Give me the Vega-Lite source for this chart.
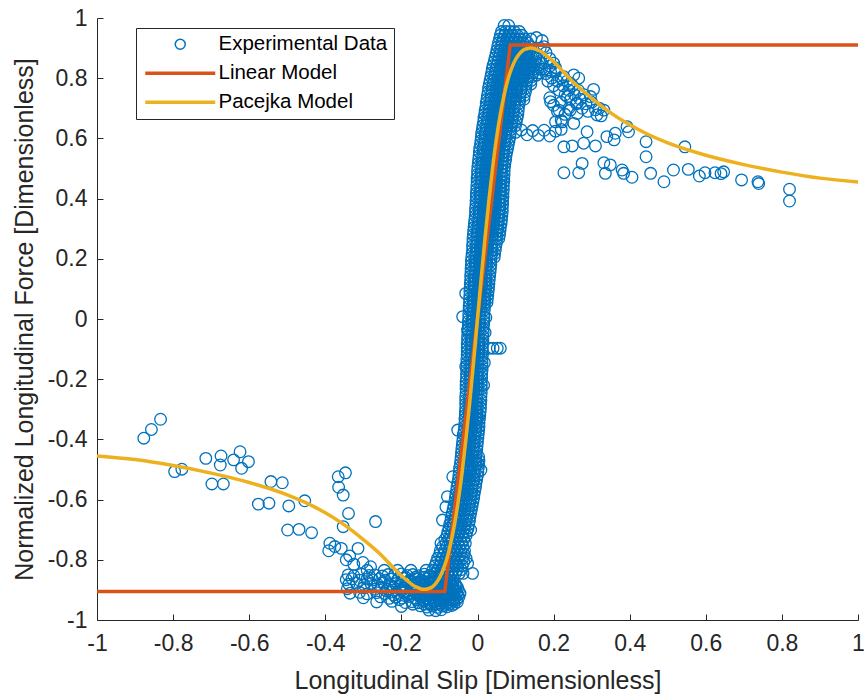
{
  "$schema": "https://vega.github.io/schema/vega-lite/v6.json",
  "width": 761,
  "height": 602,
  "autosize": "none",
  "padding": {"left": 97, "top": 18, "right": 7, "bottom": 76},
  "background": "white",
  "config": {
    "view": {"stroke": null},
    "font": "Liberation Sans",
    "axis": {
      "grid": false,
      "domainColor": "#262626",
      "domainWidth": 1,
      "tickColor": "#262626",
      "tickWidth": 1,
      "tickSize": -6,
      "labelColor": "#262626",
      "labelFont": "Liberation Sans",
      "labelFontSize": 23,
      "labelFlush": false,
      "labelOverlap": false,
      "titleColor": "#262626",
      "titleFont": "Liberation Sans",
      "titleFontSize": 25,
      "titleFontWeight": "normal"
    }
  },
  "datasets": {
    "experimental": [
      {"x":-0.877,"y":-0.396},{"x":-0.857,"y":-0.367},{"x":-0.833,"y":-0.333},{"x":-0.796,"y":-0.507},{"x":-0.777,"y":-0.499},
      {"x":-0.714,"y":-0.463},{"x":-0.674,"y":-0.455},{"x":-0.676,"y":-0.485},{"x":-0.641,"y":-0.468},{"x":-0.624,"y":-0.441},
      {"x":-0.602,"y":-0.474},{"x":-0.620,"y":-0.496},{"x":-0.698,"y":-0.548},{"x":-0.668,"y":-0.548},{"x":-0.543,"y":-0.540},
      {"x":-0.513,"y":-0.544},{"x":-0.576,"y":-0.615},{"x":-0.548,"y":-0.612},{"x":-0.496,"y":-0.621},{"x":-0.454,"y":-0.604},
      {"x":-0.499,"y":-0.701},{"x":-0.469,"y":-0.699},{"x":-0.436,"y":-0.710},{"x":-0.366,"y":-0.524},{"x":-0.347,"y":-0.511},
      {"x":-0.365,"y":-0.559},{"x":-0.353,"y":-0.585},{"x":-0.339,"y":-0.646},{"x":-0.353,"y":-0.690},{"x":-0.268,"y":-0.673},
      {"x":-0.388,"y":-0.745},{"x":-0.391,"y":-0.770},{"x":-0.375,"y":-0.756},{"x":-0.358,"y":-0.762},{"x":-0.336,"y":-0.787},
      {"x":-0.314,"y":-0.762},{"x":-0.301,"y":-0.809},{"x":-0.281,"y":-0.823},{"x":-0.345,"y":-0.8},{"x":-0.325,"y":-0.815},

      {"x":-0.29,"y":-0.835},{"x":-0.245,"y":-0.835},{"x":-0.21,"y":-0.835},{"x":-0.175,"y":-0.835},{"x":-0.135,"y":-0.835},{"x":-0.118,"y":-0.835},{"x":-0.105,"y":-0.835},{"x":-0.095,"y":-0.835},
      {"x":-0.34,"y":-0.85},{"x":-0.325,"y":-0.853},{"x":-0.305,"y":-0.848},{"x":-0.285,"y":-0.852},{"x":-0.27,"y":-0.85},{"x":-0.25,"y":-0.854},{"x":-0.235,"y":-0.849},{"x":-0.218,"y":-0.851},
      {"x":-0.2,"y":-0.847},{"x":-0.185,"y":-0.852},{"x":-0.17,"y":-0.849},{"x":-0.155,"y":-0.853},{"x":-0.14,"y":-0.848},{"x":-0.125,"y":-0.851},{"x":-0.112,"y":-0.846},{"x":-0.1,"y":-0.85},
      {"x":-0.19,"y":-0.8575},{"x":-0.163,"y":-0.8575},{"x":-0.14,"y":-0.8575},{"x":-0.126,"y":-0.8575},{"x":-0.111,"y":-0.8575},{"x":-0.098,"y":-0.8575},{"x":-0.086,"y":-0.8575},{"x":-0.074,"y":-0.8575},
      {"x":-0.345,"y":-0.866},{"x":-0.33,"y":-0.863},{"x":-0.31,"y":-0.868},{"x":-0.29,"y":-0.864},{"x":-0.275,"y":-0.867},{"x":-0.258,"y":-0.863},{"x":-0.242,"y":-0.868},{"x":-0.226,"y":-0.864},
      {"x":-0.21,"y":-0.866},{"x":-0.193,"y":-0.862},{"x":-0.178,"y":-0.867},{"x":-0.162,"y":-0.864},{"x":-0.147,"y":-0.868},{"x":-0.132,"y":-0.863},{"x":-0.118,"y":-0.866},{"x":-0.105,"y":-0.862},{"x":-0.092,"y":-0.867},{"x":-0.08,"y":-0.864},
      {"x":-0.2,"y":-0.8725},{"x":-0.175,"y":-0.8725},{"x":-0.155,"y":-0.8725},{"x":-0.14,"y":-0.8725},{"x":-0.125,"y":-0.8725},{"x":-0.111,"y":-0.8725},{"x":-0.099,"y":-0.8725},{"x":-0.087,"y":-0.8725},{"x":-0.075,"y":-0.8725},{"x":-0.064,"y":-0.8725},
      {"x":-0.338,"y":-0.881},{"x":-0.318,"y":-0.878},{"x":-0.298,"y":-0.883},{"x":-0.28,"y":-0.879},{"x":-0.262,"y":-0.882},{"x":-0.247,"y":-0.877},{"x":-0.231,"y":-0.882},{"x":-0.215,"y":-0.879},
      {"x":-0.199,"y":-0.883},{"x":-0.183,"y":-0.878},{"x":-0.167,"y":-0.881},{"x":-0.152,"y":-0.877},{"x":-0.137,"y":-0.882},{"x":-0.122,"y":-0.879},{"x":-0.108,"y":-0.883},{"x":-0.095,"y":-0.878},{"x":-0.083,"y":-0.881},{"x":-0.07,"y":-0.877},{"x":-0.058,"y":-0.88},
      {"x":-0.23,"y":-0.8875},{"x":-0.19,"y":-0.8875},{"x":-0.165,"y":-0.8875},{"x":-0.145,"y":-0.8875},{"x":-0.13,"y":-0.8875},{"x":-0.116,"y":-0.8875},{"x":-0.102,"y":-0.8875},{"x":-0.089,"y":-0.8875},{"x":-0.077,"y":-0.8875},{"x":-0.066,"y":-0.8875},{"x":-0.056,"y":-0.8875},
      {"x":-0.342,"y":-0.896},{"x":-0.3,"y":-0.893},{"x":-0.27,"y":-0.898},{"x":-0.252,"y":-0.894},{"x":-0.236,"y":-0.897},{"x":-0.22,"y":-0.892},{"x":-0.204,"y":-0.897},{"x":-0.188,"y":-0.893},
      {"x":-0.172,"y":-0.898},{"x":-0.157,"y":-0.894},{"x":-0.142,"y":-0.897},{"x":-0.127,"y":-0.892},{"x":-0.113,"y":-0.896},{"x":-0.1,"y":-0.893},{"x":-0.087,"y":-0.897},{"x":-0.075,"y":-0.894},{"x":-0.063,"y":-0.898},{"x":-0.052,"y":-0.893},
      {"x":-0.24,"y":-0.9025},{"x":-0.2,"y":-0.9025},{"x":-0.17,"y":-0.9025},{"x":-0.15,"y":-0.9025},{"x":-0.135,"y":-0.9025},{"x":-0.12,"y":-0.9025},{"x":-0.107,"y":-0.9025},{"x":-0.094,"y":-0.9025},{"x":-0.082,"y":-0.9025},{"x":-0.07,"y":-0.9025},{"x":-0.06,"y":-0.9025},{"x":-0.05,"y":-0.9025},
      {"x":-0.335,"y":-0.911},{"x":-0.31,"y":-0.908},{"x":-0.29,"y":-0.913},{"x":-0.265,"y":-0.909},{"x":-0.243,"y":-0.912},{"x":-0.226,"y":-0.907},{"x":-0.21,"y":-0.912},{"x":-0.194,"y":-0.908},
      {"x":-0.178,"y":-0.913},{"x":-0.162,"y":-0.909},{"x":-0.147,"y":-0.912},{"x":-0.132,"y":-0.907},{"x":-0.118,"y":-0.911},{"x":-0.104,"y":-0.908},{"x":-0.09,"y":-0.912},{"x":-0.078,"y":-0.909},{"x":-0.066,"y":-0.913},{"x":-0.055,"y":-0.908},{"x":-0.046,"y":-0.911},
      {"x":-0.22,"y":-0.9175},{"x":-0.185,"y":-0.9175},{"x":-0.157,"y":-0.9175},{"x":-0.14,"y":-0.9175},{"x":-0.125,"y":-0.9175},{"x":-0.111,"y":-0.9175},{"x":-0.098,"y":-0.9175},{"x":-0.085,"y":-0.9175},{"x":-0.073,"y":-0.9175},{"x":-0.062,"y":-0.9175},{"x":-0.052,"y":-0.9175},
      {"x":-0.3,"y":-0.926},{"x":-0.255,"y":-0.923},{"x":-0.232,"y":-0.928},{"x":-0.215,"y":-0.924},{"x":-0.198,"y":-0.927},{"x":-0.18,"y":-0.922},{"x":-0.165,"y":-0.927},{"x":-0.15,"y":-0.923},
      {"x":-0.136,"y":-0.928},{"x":-0.122,"y":-0.924},{"x":-0.108,"y":-0.927},{"x":-0.095,"y":-0.922},{"x":-0.082,"y":-0.926},{"x":-0.07,"y":-0.923},{"x":-0.059,"y":-0.927},{"x":-0.049,"y":-0.924},
      {"x":-0.205,"y":-0.9325},{"x":-0.16,"y":-0.9325},{"x":-0.143,"y":-0.9325},{"x":-0.129,"y":-0.9325},{"x":-0.115,"y":-0.9325},{"x":-0.101,"y":-0.9325},{"x":-0.088,"y":-0.9325},{"x":-0.076,"y":-0.9325},{"x":-0.065,"y":-0.9325},{"x":-0.055,"y":-0.9325},
      {"x":-0.265,"y":-0.94},{"x":-0.225,"y":-0.938},{"x":-0.19,"y":-0.942},{"x":-0.172,"y":-0.939},{"x":-0.155,"y":-0.943},{"x":-0.14,"y":-0.938},{"x":-0.126,"y":-0.942},{"x":-0.112,"y":-0.939},
      {"x":-0.099,"y":-0.943},{"x":-0.086,"y":-0.938},{"x":-0.074,"y":-0.941},{"x":-0.063,"y":-0.937},{"x":-0.053,"y":-0.94},
      {"x":-0.17,"y":-0.9475},{"x":-0.14,"y":-0.9475},{"x":-0.124,"y":-0.9475},{"x":-0.11,"y":-0.9475},{"x":-0.097,"y":-0.9475},{"x":-0.085,"y":-0.9475},{"x":-0.073,"y":-0.9475},{"x":-0.062,"y":-0.9475},
      {"x":-0.2,"y":-0.955},{"x":-0.15,"y":-0.953},{"x":-0.133,"y":-0.957},{"x":-0.119,"y":-0.954},{"x":-0.105,"y":-0.958},{"x":-0.092,"y":-0.954},{"x":-0.08,"y":-0.956},{"x":-0.068,"y":-0.952},
      {"x":-0.128,"y":-0.967},{"x":-0.11,"y":-0.969},{"x":-0.095,"y":-0.966},

      {"x":-0.09,"y":-0.845},{"x":-0.079,"y":-0.845},{"x":-0.068,"y":-0.845},{"x":-0.058,"y":-0.845},{"x":-0.048,"y":-0.845},{"x":-0.038,"y":-0.845},{"x":-0.013,"y":-0.845},
      {"x":-0.095,"y":-0.8325},{"x":-0.084,"y":-0.8325},{"x":-0.073,"y":-0.8325},{"x":-0.063,"y":-0.8325},{"x":-0.053,"y":-0.8325},{"x":-0.043,"y":-0.8325},
      {"x":-0.112,"y":-0.82},{"x":-0.1,"y":-0.82},{"x":-0.088,"y":-0.82},{"x":-0.076,"y":-0.82},{"x":-0.064,"y":-0.82},{"x":-0.052,"y":-0.82},{"x":-0.04,"y":-0.82},{"x":-0.026,"y":-0.812},
      {"x":-0.108,"y":-0.8075},{"x":-0.096,"y":-0.8075},{"x":-0.084,"y":-0.8075},{"x":-0.072,"y":-0.8075},{"x":-0.06,"y":-0.8075},{"x":-0.048,"y":-0.8075},{"x":-0.036,"y":-0.8075},
      {"x":-0.105,"y":-0.795},{"x":-0.094,"y":-0.795},{"x":-0.083,"y":-0.795},{"x":-0.072,"y":-0.795},{"x":-0.061,"y":-0.795},{"x":-0.05,"y":-0.795},{"x":-0.039,"y":-0.795},{"x":-0.03,"y":-0.795},
      {"x":-0.1,"y":-0.7825},{"x":-0.089,"y":-0.7825},{"x":-0.078,"y":-0.7825},{"x":-0.067,"y":-0.7825},{"x":-0.056,"y":-0.7825},{"x":-0.045,"y":-0.7825},{"x":-0.035,"y":-0.7825},
      {"x":-0.098,"y":-0.77},{"x":-0.087,"y":-0.77},{"x":-0.076,"y":-0.77},{"x":-0.065,"y":-0.77},{"x":-0.054,"y":-0.77},{"x":-0.044,"y":-0.77},{"x":-0.034,"y":-0.77},
      {"x":-0.092,"y":-0.7575},{"x":-0.081,"y":-0.7575},{"x":-0.07,"y":-0.7575},{"x":-0.059,"y":-0.7575},{"x":-0.048,"y":-0.7575},{"x":-0.038,"y":-0.7575},
      {"x":-0.096,"y":-0.745},{"x":-0.083,"y":-0.745},{"x":-0.072,"y":-0.745},{"x":-0.062,"y":-0.745},{"x":-0.052,"y":-0.745},{"x":-0.042,"y":-0.745},{"x":-0.032,"y":-0.745},
      {"x":-0.086,"y":-0.7325},{"x":-0.076,"y":-0.7325},{"x":-0.066,"y":-0.7325},{"x":-0.056,"y":-0.7325},{"x":-0.046,"y":-0.7325},{"x":-0.036,"y":-0.7325},
      {"x":-0.08,"y":-0.72},{"x":-0.07,"y":-0.72},{"x":-0.06,"y":-0.72},{"x":-0.05,"y":-0.72},{"x":-0.04,"y":-0.72},{"x":-0.03,"y":-0.72},{"x":-0.018,"y":-0.701},
      {"x":-0.078,"y":-0.7075},{"x":-0.068,"y":-0.7075},{"x":-0.058,"y":-0.7075},{"x":-0.048,"y":-0.7075},{"x":-0.038,"y":-0.7075},{"x":-0.028,"y":-0.7075},
      {"x":-0.075,"y":-0.695},{"x":-0.065,"y":-0.695},{"x":-0.055,"y":-0.695},{"x":-0.045,"y":-0.695},{"x":-0.035,"y":-0.695},{"x":-0.025,"y":-0.695},
      {"x":-0.073,"y":-0.6825},{"x":-0.063,"y":-0.6825},{"x":-0.053,"y":-0.6825},{"x":-0.043,"y":-0.6825},{"x":-0.033,"y":-0.6825},{"x":-0.023,"y":-0.6825},
      {"x":-0.092,"y":-0.668},{"x":-0.07,"y":-0.67},{"x":-0.06,"y":-0.67},{"x":-0.05,"y":-0.67},{"x":-0.04,"y":-0.67},{"x":-0.03,"y":-0.67},{"x":-0.021,"y":-0.67},
      {"x":-0.069,"y":-0.6575},{"x":-0.059,"y":-0.6575},{"x":-0.049,"y":-0.6575},{"x":-0.039,"y":-0.6575},{"x":-0.029,"y":-0.6575},{"x":-0.02,"y":-0.6575},
      {"x":-0.066,"y":-0.645},{"x":-0.056,"y":-0.645},{"x":-0.046,"y":-0.645},{"x":-0.036,"y":-0.645},{"x":-0.026,"y":-0.645},{"x":-0.018,"y":-0.645},
      {"x":-0.064,"y":-0.6325},{"x":-0.054,"y":-0.6325},{"x":-0.044,"y":-0.6325},{"x":-0.034,"y":-0.6325},{"x":-0.024,"y":-0.6325},{"x":-0.016,"y":-0.6325},
      {"x":-0.083,"y":-0.624},{"x":-0.062,"y":-0.62},{"x":-0.052,"y":-0.62},{"x":-0.042,"y":-0.62},{"x":-0.032,"y":-0.62},{"x":-0.022,"y":-0.62},{"x":-0.014,"y":-0.62},
      {"x":-0.06,"y":-0.6075},{"x":-0.05,"y":-0.6075},{"x":-0.04,"y":-0.6075},{"x":-0.03,"y":-0.6075},{"x":-0.02,"y":-0.6075},{"x":-0.012,"y":-0.6075},
      {"x":-0.079,"y":-0.59},{"x":-0.058,"y":-0.595},{"x":-0.048,"y":-0.595},{"x":-0.038,"y":-0.595},{"x":-0.028,"y":-0.595},{"x":-0.018,"y":-0.595},{"x":-0.01,"y":-0.595},
      {"x":-0.057,"y":-0.5825},{"x":-0.047,"y":-0.5825},{"x":-0.037,"y":-0.5825},{"x":-0.027,"y":-0.5825},{"x":-0.017,"y":-0.5825},{"x":-0.009,"y":-0.5825},
      {"x":-0.055,"y":-0.57},{"x":-0.045,"y":-0.57},{"x":-0.035,"y":-0.57},{"x":-0.025,"y":-0.57},{"x":-0.015,"y":-0.57},{"x":-0.007,"y":-0.57},
      {"x":-0.054,"y":-0.5575},{"x":-0.044,"y":-0.5575},{"x":-0.034,"y":-0.5575},{"x":-0.024,"y":-0.5575},{"x":-0.014,"y":-0.5575},{"x":-0.005,"y":-0.5575},
      {"x":-0.052,"y":-0.545},{"x":-0.042,"y":-0.545},{"x":-0.032,"y":-0.545},{"x":-0.022,"y":-0.545},{"x":-0.012,"y":-0.545},{"x":-0.004,"y":-0.545},
      {"x":-0.05,"y":-0.5325},{"x":-0.04,"y":-0.5325},{"x":-0.03,"y":-0.5325},{"x":-0.02,"y":-0.5325},{"x":-0.01,"y":-0.5325},{"x":-0.002,"y":-0.5325},
      {"x":-0.065,"y":-0.524},{"x":-0.049,"y":-0.52},{"x":-0.039,"y":-0.52},{"x":-0.029,"y":-0.52},{"x":-0.019,"y":-0.52},{"x":-0.009,"y":-0.52},{"x":0.0,"y":-0.52},{"x":0.009,"y":-0.502},
      {"x":-0.048,"y":-0.5075},{"x":-0.038,"y":-0.5075},{"x":-0.028,"y":-0.5075},{"x":-0.018,"y":-0.5075},{"x":-0.008,"y":-0.5075},{"x":0.001,"y":-0.5075},
      {"x":-0.047,"y":-0.495},{"x":-0.037,"y":-0.495},{"x":-0.027,"y":-0.495},{"x":-0.017,"y":-0.495},{"x":-0.007,"y":-0.495},{"x":0.002,"y":-0.495},{"x":0.0,"y":-0.479},
      {"x":-0.045,"y":-0.4825},{"x":-0.035,"y":-0.4825},{"x":-0.025,"y":-0.4825},{"x":-0.015,"y":-0.4825},{"x":-0.005,"y":-0.4825},{"x":0.003,"y":-0.4825},
      {"x":-0.044,"y":-0.47},{"x":-0.034,"y":-0.47},{"x":-0.024,"y":-0.47},{"x":-0.014,"y":-0.47},{"x":-0.004,"y":-0.47},{"x":0.004,"y":-0.47},
      {"x":-0.043,"y":-0.4575},{"x":-0.033,"y":-0.4575},{"x":-0.023,"y":-0.4575},{"x":-0.013,"y":-0.4575},{"x":-0.004,"y":-0.4575},{"x":0.003,"y":-0.4575},
      {"x":-0.042,"y":-0.445},{"x":-0.032,"y":-0.445},{"x":-0.022,"y":-0.445},{"x":-0.012,"y":-0.445},{"x":-0.003,"y":-0.445},
      {"x":-0.041,"y":-0.4325},{"x":-0.031,"y":-0.4325},{"x":-0.021,"y":-0.4325},{"x":-0.011,"y":-0.4325},{"x":-0.002,"y":-0.4325},
      {"x":-0.04,"y":-0.42},{"x":-0.03,"y":-0.42},{"x":-0.02,"y":-0.42},{"x":-0.01,"y":-0.42},{"x":-0.001,"y":-0.42},
      {"x":-0.039,"y":-0.4075},{"x":-0.029,"y":-0.4075},{"x":-0.019,"y":-0.4075},{"x":-0.009,"y":-0.4075},{"x":0.0,"y":-0.4075},
      {"x":-0.038,"y":-0.395},{"x":-0.028,"y":-0.395},{"x":-0.018,"y":-0.395},{"x":-0.008,"y":-0.395},{"x":0.001,"y":-0.395},
      {"x":-0.037,"y":-0.3825},{"x":-0.027,"y":-0.3825},{"x":-0.017,"y":-0.3825},{"x":-0.007,"y":-0.3825},{"x":0.002,"y":-0.3825},
      {"x":-0.052,"y":-0.369},{"x":-0.035,"y":-0.37},{"x":-0.025,"y":-0.37},{"x":-0.015,"y":-0.37},{"x":-0.005,"y":-0.37},{"x":0.003,"y":-0.37},
      {"x":-0.034,"y":-0.3575},{"x":-0.024,"y":-0.3575},{"x":-0.014,"y":-0.3575},{"x":-0.004,"y":-0.3575},{"x":0.004,"y":-0.3575},
      {"x":-0.033,"y":-0.345},{"x":-0.023,"y":-0.345},{"x":-0.013,"y":-0.345},{"x":-0.003,"y":-0.345},{"x":0.004,"y":-0.345},{"x":0.0,"y":-0.33},
      {"x":-0.033,"y":-0.3325},{"x":-0.023,"y":-0.3325},{"x":-0.013,"y":-0.3325},{"x":-0.003,"y":-0.3325},{"x":0.005,"y":-0.3325},
      {"x":-0.032,"y":-0.32},{"x":-0.022,"y":-0.32},{"x":-0.012,"y":-0.32},{"x":-0.002,"y":-0.32},{"x":0.006,"y":-0.32},
      {"x":-0.032,"y":-0.3075},{"x":-0.022,"y":-0.3075},{"x":-0.012,"y":-0.3075},{"x":-0.002,"y":-0.3075},{"x":0.007,"y":-0.3075},
      {"x":-0.031,"y":-0.295},{"x":-0.021,"y":-0.295},{"x":-0.011,"y":-0.295},{"x":-0.001,"y":-0.295},{"x":0.008,"y":-0.295},
      {"x":-0.031,"y":-0.2825},{"x":-0.021,"y":-0.2825},{"x":-0.011,"y":-0.2825},{"x":-0.001,"y":-0.2825},{"x":0.008,"y":-0.2825},
      {"x":-0.031,"y":-0.27},{"x":-0.021,"y":-0.27},{"x":-0.011,"y":-0.27},{"x":-0.001,"y":-0.27},{"x":0.009,"y":-0.27},
      {"x":-0.031,"y":-0.2575},{"x":-0.021,"y":-0.2575},{"x":-0.011,"y":-0.2575},{"x":-0.001,"y":-0.2575},{"x":0.009,"y":-0.2575},
      {"x":-0.03,"y":-0.245},{"x":-0.02,"y":-0.245},{"x":-0.01,"y":-0.245},{"x":0.0,"y":-0.245},{"x":0.01,"y":-0.245},
      {"x":-0.03,"y":-0.2325},{"x":-0.02,"y":-0.2325},{"x":-0.01,"y":-0.2325},{"x":0.0,"y":-0.2325},{"x":0.01,"y":-0.2325},
      {"x":-0.03,"y":-0.22},{"x":-0.02,"y":-0.22},{"x":-0.01,"y":-0.22},{"x":0.0,"y":-0.22},{"x":0.01,"y":-0.22},{"x":0.016,"y":-0.22},
      {"x":-0.03,"y":-0.2075},{"x":-0.02,"y":-0.2075},{"x":-0.01,"y":-0.2075},{"x":0.0,"y":-0.2075},{"x":0.01,"y":-0.2075},
      {"x":-0.029,"y":-0.195},{"x":-0.019,"y":-0.195},{"x":-0.009,"y":-0.195},{"x":0.001,"y":-0.195},{"x":0.011,"y":-0.195},
      {"x":-0.029,"y":-0.1825},{"x":-0.019,"y":-0.1825},{"x":-0.009,"y":-0.1825},{"x":0.001,"y":-0.1825},{"x":0.011,"y":-0.1825},
      {"x":-0.028,"y":-0.17},{"x":-0.018,"y":-0.17},{"x":-0.008,"y":-0.17},{"x":0.002,"y":-0.17},{"x":0.012,"y":-0.17},{"x":-0.031,"y":-0.158},
      {"x":-0.028,"y":-0.1575},{"x":-0.018,"y":-0.1575},{"x":-0.008,"y":-0.1575},{"x":0.002,"y":-0.1575},{"x":0.012,"y":-0.1575},
      {"x":-0.028,"y":-0.145},{"x":-0.018,"y":-0.145},{"x":-0.008,"y":-0.145},{"x":0.002,"y":-0.145},{"x":0.012,"y":-0.145},{"x":0.018,"y":-0.145},
      {"x":-0.028,"y":-0.1325},{"x":-0.018,"y":-0.1325},{"x":-0.008,"y":-0.1325},{"x":0.002,"y":-0.1325},{"x":0.012,"y":-0.1325},
      {"x":-0.027,"y":-0.12},{"x":-0.017,"y":-0.12},{"x":-0.007,"y":-0.12},{"x":0.003,"y":-0.12},{"x":0.013,"y":-0.12},
      {"x":-0.027,"y":-0.1075},{"x":-0.017,"y":-0.1075},{"x":-0.007,"y":-0.1075},{"x":0.003,"y":-0.1075},{"x":0.013,"y":-0.1075},
      {"x":-0.027,"y":-0.095},{"x":-0.017,"y":-0.095},{"x":-0.007,"y":-0.095},{"x":0.003,"y":-0.095},{"x":0.013,"y":-0.095},{"x":0.031,"y":-0.097},{"x":0.041,"y":-0.097},{"x":0.052,"y":-0.097},{"x":0.06,"y":-0.097},
      {"x":-0.027,"y":-0.0825},{"x":-0.017,"y":-0.0825},{"x":-0.007,"y":-0.0825},{"x":0.003,"y":-0.0825},{"x":0.013,"y":-0.0825},
      {"x":-0.026,"y":-0.07},{"x":-0.016,"y":-0.07},{"x":-0.006,"y":-0.07},{"x":0.004,"y":-0.07},{"x":0.014,"y":-0.07},
      {"x":-0.026,"y":-0.0575},{"x":-0.016,"y":-0.0575},{"x":-0.006,"y":-0.0575},{"x":0.004,"y":-0.0575},{"x":0.014,"y":-0.0575},
      {"x":-0.025,"y":-0.045},{"x":-0.015,"y":-0.045},{"x":-0.005,"y":-0.045},{"x":0.005,"y":-0.045},{"x":0.015,"y":-0.045},{"x":0.02,"y":-0.045},{"x":-0.026,"y":-0.037},
      {"x":-0.025,"y":-0.0325},{"x":-0.015,"y":-0.0325},{"x":-0.005,"y":-0.0325},{"x":0.005,"y":-0.0325},{"x":0.015,"y":-0.0325},
      {"x":-0.024,"y":-0.02},{"x":-0.014,"y":-0.02},{"x":-0.004,"y":-0.02},{"x":0.006,"y":-0.02},{"x":0.016,"y":-0.02},
      {"x":-0.024,"y":-0.0075},{"x":-0.014,"y":-0.0075},{"x":-0.004,"y":-0.0075},{"x":0.006,"y":-0.0075},{"x":0.016,"y":-0.0075},
      {"x":-0.039,"y":0.008},{"x":-0.023,"y":0.005},{"x":-0.013,"y":0.005},{"x":-0.003,"y":0.005},{"x":0.007,"y":0.005},{"x":0.017,"y":0.005},{"x":0.022,"y":0.005},
      {"x":-0.023,"y":0.0175},{"x":-0.013,"y":0.0175},{"x":-0.003,"y":0.0175},{"x":0.007,"y":0.0175},{"x":0.017,"y":0.0175},
      {"x":-0.022,"y":0.03},{"x":-0.012,"y":0.03},{"x":-0.002,"y":0.03},{"x":0.008,"y":0.03},{"x":0.018,"y":0.03},
      {"x":-0.022,"y":0.0425},{"x":-0.012,"y":0.0425},{"x":-0.002,"y":0.0425},{"x":0.008,"y":0.0425},{"x":0.018,"y":0.0425},
      {"x":-0.021,"y":0.055},{"x":-0.011,"y":0.055},{"x":-0.001,"y":0.055},{"x":0.009,"y":0.055},{"x":0.019,"y":0.055},{"x":0.025,"y":0.055},
      {"x":-0.021,"y":0.0675},{"x":-0.011,"y":0.0675},{"x":-0.001,"y":0.0675},{"x":0.009,"y":0.0675},{"x":0.019,"y":0.0675},{"x":0.026,"y":0.0675},
      {"x":-0.031,"y":0.085},{"x":-0.02,"y":0.08},{"x":-0.01,"y":0.08},{"x":0.0,"y":0.08},{"x":0.01,"y":0.08},{"x":0.02,"y":0.08},{"x":0.027,"y":0.08},
      {"x":-0.02,"y":0.0925},{"x":-0.01,"y":0.0925},{"x":0.0,"y":0.0925},{"x":0.01,"y":0.0925},{"x":0.02,"y":0.0925},{"x":0.028,"y":0.0925},
      {"x":-0.019,"y":0.105},{"x":-0.009,"y":0.105},{"x":0.001,"y":0.105},{"x":0.011,"y":0.105},{"x":0.021,"y":0.105},{"x":0.029,"y":0.105},
      {"x":-0.019,"y":0.1175},{"x":-0.009,"y":0.1175},{"x":0.001,"y":0.1175},{"x":0.011,"y":0.1175},{"x":0.021,"y":0.1175},{"x":0.03,"y":0.1175},
      {"x":-0.018,"y":0.13},{"x":-0.008,"y":0.13},{"x":0.002,"y":0.13},{"x":0.012,"y":0.13},{"x":0.022,"y":0.13},{"x":0.031,"y":0.13},
      {"x":-0.018,"y":0.1425},{"x":-0.008,"y":0.1425},{"x":0.002,"y":0.1425},{"x":0.012,"y":0.1425},{"x":0.022,"y":0.1425},{"x":0.032,"y":0.1425},
      {"x":-0.017,"y":0.155},{"x":-0.007,"y":0.155},{"x":0.003,"y":0.155},{"x":0.013,"y":0.155},{"x":0.023,"y":0.155},{"x":0.033,"y":0.155},
      {"x":-0.017,"y":0.1675},{"x":-0.007,"y":0.1675},{"x":0.003,"y":0.1675},{"x":0.013,"y":0.1675},{"x":0.023,"y":0.1675},{"x":0.034,"y":0.1675},
      {"x":-0.016,"y":0.18},{"x":-0.006,"y":0.18},{"x":0.004,"y":0.18},{"x":0.014,"y":0.18},{"x":0.024,"y":0.18},{"x":0.035,"y":0.18},
      {"x":-0.016,"y":0.1925},{"x":-0.006,"y":0.1925},{"x":0.004,"y":0.1925},{"x":0.014,"y":0.1925},{"x":0.024,"y":0.1925},{"x":0.035,"y":0.1925},
      {"x":-0.015,"y":0.205},{"x":-0.005,"y":0.205},{"x":0.005,"y":0.205},{"x":0.015,"y":0.205},{"x":0.025,"y":0.205},{"x":0.036,"y":0.205},{"x":0.044,"y":0.205},
      {"x":-0.014,"y":0.2175},{"x":-0.004,"y":0.2175},{"x":0.006,"y":0.2175},{"x":0.016,"y":0.2175},{"x":0.026,"y":0.2175},{"x":0.037,"y":0.2175},{"x":0.045,"y":0.2175},
      {"x":-0.013,"y":0.23},{"x":-0.003,"y":0.23},{"x":0.007,"y":0.23},{"x":0.017,"y":0.23},{"x":0.027,"y":0.23},{"x":0.038,"y":0.23},{"x":0.047,"y":0.23},
      {"x":-0.013,"y":0.2425},{"x":-0.003,"y":0.2425},{"x":0.007,"y":0.2425},{"x":0.017,"y":0.2425},{"x":0.027,"y":0.2425},{"x":0.038,"y":0.2425},{"x":0.048,"y":0.2425},
      {"x":-0.012,"y":0.255},{"x":-0.002,"y":0.255},{"x":0.008,"y":0.255},{"x":0.018,"y":0.255},{"x":0.028,"y":0.255},{"x":0.039,"y":0.255},{"x":0.05,"y":0.255},
      {"x":-0.012,"y":0.2675},{"x":-0.002,"y":0.2675},{"x":0.008,"y":0.2675},{"x":0.018,"y":0.2675},{"x":0.028,"y":0.2675},{"x":0.039,"y":0.2675},{"x":0.05,"y":0.2675},{"x":0.056,"y":0.2675},
      {"x":-0.011,"y":0.28},{"x":-0.001,"y":0.28},{"x":0.009,"y":0.28},{"x":0.019,"y":0.28},{"x":0.029,"y":0.28},{"x":0.04,"y":0.28},{"x":0.051,"y":0.28},{"x":0.058,"y":0.28},
      {"x":-0.01,"y":0.2925},{"x":0.0,"y":0.2925},{"x":0.01,"y":0.2925},{"x":0.02,"y":0.2925},{"x":0.03,"y":0.2925},{"x":0.041,"y":0.2925},{"x":0.052,"y":0.2925},{"x":0.059,"y":0.2925},
      {"x":-0.009,"y":0.305},{"x":0.001,"y":0.305},{"x":0.011,"y":0.305},{"x":0.021,"y":0.305},{"x":0.031,"y":0.305},{"x":0.042,"y":0.305},{"x":0.053,"y":0.305},{"x":0.06,"y":0.305},
      {"x":-0.008,"y":0.3175},{"x":0.002,"y":0.3175},{"x":0.012,"y":0.3175},{"x":0.022,"y":0.3175},{"x":0.032,"y":0.3175},{"x":0.043,"y":0.3175},{"x":0.054,"y":0.3175},{"x":0.062,"y":0.3175},
      {"x":-0.007,"y":0.33},{"x":0.003,"y":0.33},{"x":0.013,"y":0.33},{"x":0.023,"y":0.33},{"x":0.033,"y":0.33},{"x":0.044,"y":0.33},{"x":0.055,"y":0.33},{"x":0.063,"y":0.33},
      {"x":-0.006,"y":0.3425},{"x":0.004,"y":0.3425},{"x":0.014,"y":0.3425},{"x":0.024,"y":0.3425},{"x":0.034,"y":0.3425},{"x":0.045,"y":0.3425},{"x":0.056,"y":0.3425},{"x":0.064,"y":0.3425},
      {"x":-0.005,"y":0.355},{"x":0.005,"y":0.355},{"x":0.015,"y":0.355},{"x":0.025,"y":0.355},{"x":0.035,"y":0.355},{"x":0.046,"y":0.355},{"x":0.057,"y":0.355},{"x":0.065,"y":0.355},
      {"x":-0.005,"y":0.3675},{"x":0.005,"y":0.3675},{"x":0.015,"y":0.3675},{"x":0.025,"y":0.3675},{"x":0.036,"y":0.3675},{"x":0.047,"y":0.3675},{"x":0.058,"y":0.3675},{"x":0.065,"y":0.3675},
      {"x":-0.004,"y":0.38},{"x":0.006,"y":0.38},{"x":0.016,"y":0.38},{"x":0.026,"y":0.38},{"x":0.037,"y":0.38},{"x":0.048,"y":0.38},{"x":0.059,"y":0.38},{"x":0.066,"y":0.38},
      {"x":-0.004,"y":0.3925},{"x":0.006,"y":0.3925},{"x":0.016,"y":0.3925},{"x":0.026,"y":0.3925},{"x":0.037,"y":0.3925},{"x":0.048,"y":0.3925},{"x":0.059,"y":0.3925},{"x":0.066,"y":0.3925},
      {"x":-0.003,"y":0.405},{"x":0.007,"y":0.405},{"x":0.017,"y":0.405},{"x":0.027,"y":0.405},{"x":0.038,"y":0.405},{"x":0.049,"y":0.405},{"x":0.06,"y":0.405},{"x":0.067,"y":0.405},
      {"x":-0.003,"y":0.4175},{"x":0.007,"y":0.4175},{"x":0.017,"y":0.4175},{"x":0.027,"y":0.4175},{"x":0.038,"y":0.4175},{"x":0.049,"y":0.4175},{"x":0.06,"y":0.4175},{"x":0.067,"y":0.4175},
      {"x":-0.002,"y":0.43},{"x":0.008,"y":0.43},{"x":0.018,"y":0.43},{"x":0.028,"y":0.43},{"x":0.039,"y":0.43},{"x":0.05,"y":0.43},{"x":0.061,"y":0.43},{"x":0.068,"y":0.43},
      {"x":-0.002,"y":0.4425},{"x":0.008,"y":0.4425},{"x":0.018,"y":0.4425},{"x":0.028,"y":0.4425},{"x":0.039,"y":0.4425},{"x":0.05,"y":0.4425},{"x":0.061,"y":0.4425},{"x":0.068,"y":0.4425},
      {"x":-0.001,"y":0.455},{"x":0.009,"y":0.455},{"x":0.019,"y":0.455},{"x":0.029,"y":0.455},{"x":0.04,"y":0.455},{"x":0.051,"y":0.455},{"x":0.062,"y":0.455},{"x":0.069,"y":0.455},
      {"x":-0.001,"y":0.4675},{"x":0.009,"y":0.4675},{"x":0.019,"y":0.4675},{"x":0.029,"y":0.4675},{"x":0.04,"y":0.4675},{"x":0.051,"y":0.4675},{"x":0.062,"y":0.4675},{"x":0.069,"y":0.4675},
      {"x":0.0,"y":0.48},{"x":0.01,"y":0.48},{"x":0.02,"y":0.48},{"x":0.03,"y":0.48},{"x":0.041,"y":0.48},{"x":0.052,"y":0.48},{"x":0.063,"y":0.48},{"x":0.07,"y":0.48},
      {"x":0.0,"y":0.4925},{"x":0.01,"y":0.4925},{"x":0.02,"y":0.4925},{"x":0.03,"y":0.4925},{"x":0.041,"y":0.4925},{"x":0.052,"y":0.4925},{"x":0.063,"y":0.4925},{"x":0.07,"y":0.4925},
      {"x":0.001,"y":0.505},{"x":0.011,"y":0.505},{"x":0.021,"y":0.505},{"x":0.031,"y":0.505},{"x":0.042,"y":0.505},{"x":0.053,"y":0.505},{"x":0.064,"y":0.505},{"x":0.071,"y":0.505},
      {"x":0.002,"y":0.5175},{"x":0.012,"y":0.5175},{"x":0.022,"y":0.5175},{"x":0.032,"y":0.5175},{"x":0.043,"y":0.5175},{"x":0.054,"y":0.5175},{"x":0.065,"y":0.5175},{"x":0.072,"y":0.5175},
      {"x":0.003,"y":0.53},{"x":0.013,"y":0.53},{"x":0.023,"y":0.53},{"x":0.033,"y":0.53},{"x":0.044,"y":0.53},{"x":0.055,"y":0.53},{"x":0.066,"y":0.53},{"x":0.074,"y":0.53},
      {"x":0.004,"y":0.5425},{"x":0.014,"y":0.5425},{"x":0.024,"y":0.5425},{"x":0.034,"y":0.5425},{"x":0.045,"y":0.5425},{"x":0.056,"y":0.5425},{"x":0.067,"y":0.5425},{"x":0.075,"y":0.5425},
      {"x":0.005,"y":0.555},{"x":0.015,"y":0.555},{"x":0.025,"y":0.555},{"x":0.035,"y":0.555},{"x":0.046,"y":0.555},{"x":0.057,"y":0.555},{"x":0.068,"y":0.555},{"x":0.077,"y":0.555},
      {"x":0.006,"y":0.5675},{"x":0.016,"y":0.5675},{"x":0.026,"y":0.5675},{"x":0.036,"y":0.5675},{"x":0.047,"y":0.5675},{"x":0.058,"y":0.5675},{"x":0.069,"y":0.5675},{"x":0.079,"y":0.5675},
      {"x":0.008,"y":0.58},{"x":0.018,"y":0.58},{"x":0.028,"y":0.58},{"x":0.038,"y":0.58},{"x":0.049,"y":0.58},{"x":0.06,"y":0.58},{"x":0.071,"y":0.58},{"x":0.081,"y":0.58},
      {"x":0.009,"y":0.5925},{"x":0.019,"y":0.5925},{"x":0.029,"y":0.5925},{"x":0.039,"y":0.5925},{"x":0.05,"y":0.5925},{"x":0.061,"y":0.5925},{"x":0.072,"y":0.5925},{"x":0.083,"y":0.5925},
      {"x":0.01,"y":0.605},{"x":0.02,"y":0.605},{"x":0.03,"y":0.605},{"x":0.041,"y":0.605},{"x":0.052,"y":0.605},{"x":0.063,"y":0.605},{"x":0.074,"y":0.605},{"x":0.085,"y":0.605},
      {"x":0.011,"y":0.6175},{"x":0.021,"y":0.6175},{"x":0.031,"y":0.6175},{"x":0.042,"y":0.6175},{"x":0.053,"y":0.6175},{"x":0.064,"y":0.6175},{"x":0.075,"y":0.6175},{"x":0.086,"y":0.6175},
      {"x":0.013,"y":0.63},{"x":0.023,"y":0.63},{"x":0.033,"y":0.63},{"x":0.044,"y":0.63},{"x":0.055,"y":0.63},{"x":0.066,"y":0.63},{"x":0.077,"y":0.63},{"x":0.088,"y":0.63},
      {"x":0.1,"y":0.62},{"x":0.115,"y":0.628},{"x":0.13,"y":0.612},{"x":0.145,"y":0.626},{"x":0.16,"y":0.61},{"x":0.175,"y":0.627},{"x":0.19,"y":0.608},{"x":0.205,"y":0.624},{"x":0.22,"y":0.63},
      {"x":0.014,"y":0.6425},{"x":0.024,"y":0.6425},{"x":0.034,"y":0.6425},{"x":0.045,"y":0.6425},{"x":0.056,"y":0.6425},{"x":0.067,"y":0.6425},{"x":0.078,"y":0.6425},{"x":0.089,"y":0.6425},{"x":0.1,"y":0.6425},
      {"x":0.016,"y":0.655},{"x":0.026,"y":0.655},{"x":0.036,"y":0.655},{"x":0.047,"y":0.655},{"x":0.058,"y":0.655},{"x":0.069,"y":0.655},{"x":0.08,"y":0.655},{"x":0.091,"y":0.655},{"x":0.102,"y":0.655},
      {"x":0.017,"y":0.6675},{"x":0.027,"y":0.6675},{"x":0.037,"y":0.6675},{"x":0.048,"y":0.6675},{"x":0.059,"y":0.6675},{"x":0.07,"y":0.6675},{"x":0.081,"y":0.6675},{"x":0.092,"y":0.6675},{"x":0.104,"y":0.6675},
      {"x":0.019,"y":0.68},{"x":0.029,"y":0.68},{"x":0.039,"y":0.68},{"x":0.05,"y":0.68},{"x":0.061,"y":0.68},{"x":0.072,"y":0.68},{"x":0.083,"y":0.68},{"x":0.094,"y":0.68},{"x":0.106,"y":0.68},
      {"x":0.02,"y":0.6925},{"x":0.03,"y":0.6925},{"x":0.04,"y":0.6925},{"x":0.051,"y":0.6925},{"x":0.062,"y":0.6925},{"x":0.073,"y":0.6925},{"x":0.084,"y":0.6925},{"x":0.095,"y":0.6925},{"x":0.107,"y":0.6925},
      {"x":0.022,"y":0.705},{"x":0.032,"y":0.705},{"x":0.042,"y":0.705},{"x":0.053,"y":0.705},{"x":0.064,"y":0.705},{"x":0.075,"y":0.705},{"x":0.086,"y":0.705},{"x":0.097,"y":0.705},{"x":0.108,"y":0.705},
      {"x":0.023,"y":0.7175},{"x":0.033,"y":0.7175},{"x":0.043,"y":0.7175},{"x":0.054,"y":0.7175},{"x":0.065,"y":0.7175},{"x":0.076,"y":0.7175},{"x":0.087,"y":0.7175},{"x":0.098,"y":0.7175},{"x":0.11,"y":0.7175},
      {"x":0.025,"y":0.73},{"x":0.035,"y":0.73},{"x":0.045,"y":0.73},{"x":0.056,"y":0.73},{"x":0.067,"y":0.73},{"x":0.078,"y":0.73},{"x":0.089,"y":0.73},{"x":0.1,"y":0.73},{"x":0.111,"y":0.73},{"x":0.122,"y":0.73},
      {"x":0.026,"y":0.7425},{"x":0.036,"y":0.7425},{"x":0.046,"y":0.7425},{"x":0.057,"y":0.7425},{"x":0.068,"y":0.7425},{"x":0.079,"y":0.7425},{"x":0.09,"y":0.7425},{"x":0.101,"y":0.7425},{"x":0.112,"y":0.7425},{"x":0.123,"y":0.7425},
      {"x":0.028,"y":0.755},{"x":0.038,"y":0.755},{"x":0.048,"y":0.755},{"x":0.059,"y":0.755},{"x":0.07,"y":0.755},{"x":0.081,"y":0.755},{"x":0.092,"y":0.755},{"x":0.103,"y":0.755},{"x":0.114,"y":0.755},{"x":0.126,"y":0.755},
      {"x":0.029,"y":0.7675},{"x":0.039,"y":0.7675},{"x":0.049,"y":0.7675},{"x":0.06,"y":0.7675},{"x":0.071,"y":0.7675},{"x":0.082,"y":0.7675},{"x":0.093,"y":0.7675},{"x":0.104,"y":0.7675},{"x":0.115,"y":0.7675},{"x":0.127,"y":0.7675},
      {"x":0.031,"y":0.78},{"x":0.041,"y":0.78},{"x":0.051,"y":0.78},{"x":0.062,"y":0.78},{"x":0.073,"y":0.78},{"x":0.084,"y":0.78},{"x":0.095,"y":0.78},{"x":0.106,"y":0.78},{"x":0.117,"y":0.78},{"x":0.128,"y":0.78},{"x":0.14,"y":0.78},
      {"x":0.033,"y":0.7925},{"x":0.043,"y":0.7925},{"x":0.053,"y":0.7925},{"x":0.064,"y":0.7925},{"x":0.075,"y":0.7925},{"x":0.086,"y":0.7925},{"x":0.097,"y":0.7925},{"x":0.108,"y":0.7925},{"x":0.119,"y":0.7925},{"x":0.13,"y":0.7925},{"x":0.141,"y":0.7925},
      {"x":0.035,"y":0.805},{"x":0.045,"y":0.805},{"x":0.055,"y":0.805},{"x":0.066,"y":0.805},{"x":0.077,"y":0.805},{"x":0.088,"y":0.805},{"x":0.099,"y":0.805},{"x":0.11,"y":0.805},{"x":0.121,"y":0.805},{"x":0.132,"y":0.805},{"x":0.143,"y":0.805},{"x":0.155,"y":0.81},
      {"x":0.037,"y":0.8175},{"x":0.047,"y":0.8175},{"x":0.057,"y":0.8175},{"x":0.068,"y":0.8175},{"x":0.079,"y":0.8175},{"x":0.09,"y":0.8175},{"x":0.101,"y":0.8175},{"x":0.112,"y":0.8175},{"x":0.123,"y":0.8175},{"x":0.134,"y":0.8175},{"x":0.145,"y":0.8175},{"x":0.16,"y":0.8175},
      {"x":0.039,"y":0.83},{"x":0.049,"y":0.83},{"x":0.059,"y":0.83},{"x":0.07,"y":0.83},{"x":0.081,"y":0.83},{"x":0.092,"y":0.83},{"x":0.103,"y":0.83},{"x":0.114,"y":0.83},{"x":0.125,"y":0.83},{"x":0.136,"y":0.83},{"x":0.147,"y":0.83},{"x":0.158,"y":0.83},{"x":0.168,"y":0.83},
      {"x":0.041,"y":0.8425},{"x":0.051,"y":0.8425},{"x":0.061,"y":0.8425},{"x":0.072,"y":0.8425},{"x":0.083,"y":0.8425},{"x":0.094,"y":0.8425},{"x":0.105,"y":0.8425},{"x":0.116,"y":0.8425},{"x":0.127,"y":0.8425},{"x":0.138,"y":0.8425},{"x":0.149,"y":0.8425},{"x":0.16,"y":0.8425},
      {"x":0.044,"y":0.855},{"x":0.054,"y":0.855},{"x":0.064,"y":0.855},{"x":0.075,"y":0.855},{"x":0.086,"y":0.855},{"x":0.097,"y":0.855},{"x":0.108,"y":0.855},{"x":0.119,"y":0.855},{"x":0.13,"y":0.855},{"x":0.141,"y":0.855},{"x":0.152,"y":0.855},{"x":0.163,"y":0.855},
      {"x":0.046,"y":0.8675},{"x":0.056,"y":0.8675},{"x":0.066,"y":0.8675},{"x":0.077,"y":0.8675},{"x":0.088,"y":0.8675},{"x":0.099,"y":0.8675},{"x":0.11,"y":0.8675},{"x":0.121,"y":0.8675},{"x":0.132,"y":0.8675},{"x":0.143,"y":0.8675},{"x":0.154,"y":0.8675},
      {"x":0.049,"y":0.88},{"x":0.059,"y":0.88},{"x":0.069,"y":0.88},{"x":0.08,"y":0.88},{"x":0.091,"y":0.88},{"x":0.102,"y":0.88},{"x":0.113,"y":0.88},{"x":0.124,"y":0.88},{"x":0.135,"y":0.88},{"x":0.146,"y":0.88},{"x":0.157,"y":0.88},
      {"x":0.051,"y":0.8925},{"x":0.061,"y":0.8925},{"x":0.071,"y":0.8925},{"x":0.082,"y":0.8925},{"x":0.093,"y":0.8925},{"x":0.104,"y":0.8925},{"x":0.115,"y":0.8925},{"x":0.126,"y":0.8925},{"x":0.137,"y":0.8925},
      {"x":0.053,"y":0.905},{"x":0.063,"y":0.905},{"x":0.073,"y":0.905},{"x":0.084,"y":0.905},{"x":0.095,"y":0.905},{"x":0.106,"y":0.905},{"x":0.117,"y":0.905},{"x":0.128,"y":0.905},{"x":0.14,"y":0.905},
      {"x":0.055,"y":0.9175},{"x":0.065,"y":0.9175},{"x":0.075,"y":0.9175},{"x":0.086,"y":0.9175},{"x":0.097,"y":0.9175},{"x":0.108,"y":0.9175},{"x":0.12,"y":0.9175},{"x":0.132,"y":0.9175},
      {"x":0.058,"y":0.93},{"x":0.068,"y":0.93},{"x":0.078,"y":0.93},{"x":0.089,"y":0.93},{"x":0.1,"y":0.93},{"x":0.112,"y":0.93},{"x":0.124,"y":0.93},
      {"x":0.06,"y":0.9425},{"x":0.071,"y":0.9425},{"x":0.082,"y":0.9425},{"x":0.093,"y":0.9425},{"x":0.105,"y":0.9425},{"x":0.117,"y":0.9425},
      {"x":0.063,"y":0.955},{"x":0.074,"y":0.955},{"x":0.085,"y":0.955},{"x":0.097,"y":0.955},{"x":0.11,"y":0.955},
      {"x":0.07,"y":0.975},{"x":0.082,"y":0.975},
      {"x":0.14,"y":0.93},{"x":0.155,"y":0.935},{"x":0.17,"y":0.925},{"x":0.175,"y":0.905},{"x":0.165,"y":0.9},{"x":0.18,"y":0.885},{"x":0.19,"y":0.865},{"x":0.2,"y":0.85},{"x":0.205,"y":0.835},

      {"x":0.168,"y":0.85},{"x":0.175,"y":0.83},{"x":0.18,"y":0.815},{"x":0.185,"y":0.79},{"x":0.19,"y":0.84},{"x":0.195,"y":0.8},{"x":0.2,"y":0.775},{"x":0.205,"y":0.82},
      {"x":0.21,"y":0.79},{"x":0.215,"y":0.76},{"x":0.22,"y":0.8},{"x":0.225,"y":0.775},{"x":0.23,"y":0.745},{"x":0.235,"y":0.79},{"x":0.24,"y":0.76},{"x":0.245,"y":0.73},
      {"x":0.25,"y":0.775},{"x":0.255,"y":0.745},{"x":0.26,"y":0.715},{"x":0.265,"y":0.76},{"x":0.27,"y":0.73},{"x":0.275,"y":0.7},{"x":0.28,"y":0.745},{"x":0.285,"y":0.715},
      {"x":0.29,"y":0.69},{"x":0.3,"y":0.72},{"x":0.31,"y":0.695},{"x":0.32,"y":0.7},{"x":0.325,"y":0.675},
      {"x":0.19,"y":0.735},{"x":0.2,"y":0.71},{"x":0.21,"y":0.69},{"x":0.22,"y":0.72},{"x":0.23,"y":0.68},{"x":0.205,"y":0.655},{"x":0.22,"y":0.66},{"x":0.24,"y":0.7},

      {"x":0.192,"y":0.822},{"x":0.227,"y":0.805},{"x":0.253,"y":0.811},{"x":0.266,"y":0.800},{"x":0.305,"y":0.763},{"x":0.297,"y":0.739},{"x":0.332,"y":0.694},{"x":0.314,"y":0.678},
      {"x":0.262,"y":0.683},{"x":0.253,"y":0.650},{"x":0.223,"y":0.655},{"x":0.227,"y":0.572},{"x":0.249,"y":0.575},{"x":0.279,"y":0.584},{"x":0.310,"y":0.575},{"x":0.288,"y":0.622},
      {"x":0.340,"y":0.606},{"x":0.359,"y":0.595},{"x":0.362,"y":0.617},{"x":0.393,"y":0.639},{"x":0.397,"y":0.622},{"x":0.443,"y":0.589},{"x":0.443,"y":0.539},{"x":0.545,"y":0.572},
      {"x":0.227,"y":0.486},{"x":0.266,"y":0.486},{"x":0.275,"y":0.517},{"x":0.332,"y":0.519},{"x":0.349,"y":0.512},{"x":0.336,"y":0.484},{"x":0.380,"y":0.495},{"x":0.384,"y":0.484},
      {"x":0.406,"y":0.471},{"x":0.455,"y":0.484},{"x":0.490,"y":0.456},{"x":0.515,"y":0.495},{"x":0.554,"y":0.497},{"x":0.583,"y":0.475},{"x":0.598,"y":0.486},{"x":0.624,"y":0.486},
      {"x":0.647,"y":0.489},{"x":0.694,"y":0.462},{"x":0.737,"y":0.456},{"x":0.820,"y":0.431},{"x":0.820,"y":0.392},{"x":0.205,"y":0.827},{"x":0.244,"y":0.783},{"x":0.236,"y":0.739},
      {"x":0.214,"y":0.694},{"x":0.192,"y":0.722},{"x":0.244,"y":0.694},{"x":0.262,"y":0.717},{"x":0.64,"y":0.483},{"x":0.739,"y":0.45}
    ],
    "linear": [
      {"x":-1,"y":-0.905},{"x":-0.086,"y":-0.905},{"x":0.086,"y":0.91},{"x":1,"y":0.91}
    ],
    "pacejka": [
      {"x":-1,"y":-0.455},{"x":-0.9,"y":-0.467},{"x":-0.8,"y":-0.487},{"x":-0.7,"y":-0.512},{"x":-0.6,"y":-0.543},
      {"x":-0.5,"y":-0.584},{"x":-0.45,"y":-0.611},{"x":-0.4,"y":-0.644},{"x":-0.35,"y":-0.684},{"x":-0.3,"y":-0.733},
      {"x":-0.25,"y":-0.788},{"x":-0.22,"y":-0.828},{"x":-0.2,"y":-0.853},{"x":-0.18,"y":-0.874},{"x":-0.17,"y":-0.884},
      {"x":-0.16,"y":-0.891},{"x":-0.15,"y":-0.896},{"x":-0.14,"y":-0.898},{"x":-0.13,"y":-0.896},{"x":-0.12,"y":-0.891},
      {"x":-0.11,"y":-0.879},{"x":-0.1,"y":-0.86},{"x":-0.09,"y":-0.832},{"x":-0.08,"y":-0.794},{"x":-0.07,"y":-0.743},
      {"x":-0.06,"y":-0.679},{"x":-0.05,"y":-0.6},{"x":-0.04,"y":-0.505},{"x":-0.03,"y":-0.395},{"x":-0.02,"y":-0.272},
      {"x":-0.01,"y":-0.139},{"x":0,"y":0},{"x":0.01,"y":0.139},{"x":0.02,"y":0.272},{"x":0.03,"y":0.395},
      {"x":0.04,"y":0.505},{"x":0.05,"y":0.601},{"x":0.06,"y":0.68},{"x":0.07,"y":0.745},{"x":0.08,"y":0.796},
      {"x":0.09,"y":0.834},{"x":0.1,"y":0.862},{"x":0.11,"y":0.881},{"x":0.12,"y":0.893},{"x":0.13,"y":0.898},
      {"x":0.14,"y":0.9},{"x":0.15,"y":0.898},{"x":0.16,"y":0.893},{"x":0.17,"y":0.886},{"x":0.18,"y":0.876},
      {"x":0.2,"y":0.855},{"x":0.22,"y":0.829},{"x":0.25,"y":0.789},{"x":0.3,"y":0.734},{"x":0.35,"y":0.685},
      {"x":0.4,"y":0.645},{"x":0.45,"y":0.612},{"x":0.5,"y":0.585},{"x":0.6,"y":0.544},{"x":0.7,"y":0.513},
      {"x":0.8,"y":0.488},{"x":0.9,"y":0.468},{"x":1,"y":0.455}
    ]
  },
  "layer": [
    {
      "data": {"name": "experimental"},
      "mark": {"type": "point", "shape": "circle", "filled": false, "size": 135, "strokeWidth": 1.3, "opacity": 1},
      "encoding": {
        "x": {
          "field": "x", "type": "quantitative",
          "scale": {"domain": [-1, 1], "nice": false, "zero": false},
          "axis": {
            "title": "Longitudinal Slip [Dimensionless]",
            "values": [-1, -0.8, -0.6, -0.4, -0.2, 0, 0.2, 0.4, 0.6, 0.8, 1],
            "labelExpr": "(datum.value < -1e-9 ? '-' : '') + format(abs(datum.value), '.1~f')",
            "labelPadding": 18,
            "titlePadding": 13
          }
        },
        "y": {
          "field": "y", "type": "quantitative",
          "scale": {"domain": [-1, 1], "nice": false, "zero": false},
          "axis": {
            "title": "Normalized Longitudinal Force [Dimensionless]",
            "values": [-1, -0.8, -0.6, -0.4, -0.2, 0, 0.2, 0.4, 0.6, 0.8, 1],
            "labelExpr": "(datum.value < -1e-9 ? '-' : '') + format(abs(datum.value), '.1~f')",
            "labelPadding": 16,
            "titlePadding": 10
          }
        },
        "color": {
          "datum": "Experimental Data",
          "scale": {
            "domain": ["Experimental Data", "Linear Model", "Pacejka Model"],
            "range": ["#0072BD", "#D95319", "#EDB120"]
          },
          "legend": {
            "orient": "none",
            "legendX": 39,
            "legendY": 10,
            "title": null,
            "padding": 6,
            "strokeColor": "#262626",
            "fillColor": "white",
            "symbolSize": 100,
            "symbolType": {"expr": "datum.value === 'Experimental Data' ? 'circle' : 'M-7,0H7'"},
            "symbolStrokeWidth": {"expr": "datum.value === 'Experimental Data' ? 1.5 : 3.5"},
            "symbolFillColor": "transparent",
            "symbolOffset": 28,
            "labelFont": "Liberation Sans",
            "labelFontSize": 20.5,
            "labelColor": "#000000",
            "labelLimit": 400,
            "labelOffset": 28,
            "rowPadding": 8
          }
        }
      }
    },
    {
      "data": {"name": "linear"},
      "mark": {"type": "line", "strokeWidth": 3.5},
      "encoding": {
        "x": {"field": "x", "type": "quantitative"},
        "y": {"field": "y", "type": "quantitative"},
        "color": {"datum": "Linear Model"}
      }
    },
    {
      "data": {"name": "pacejka"},
      "mark": {"type": "line", "strokeWidth": 3.5, "interpolate": "monotone"},
      "encoding": {
        "x": {"field": "x", "type": "quantitative"},
        "y": {"field": "y", "type": "quantitative"},
        "color": {"datum": "Pacejka Model"}
      }
    }
  ]
}
